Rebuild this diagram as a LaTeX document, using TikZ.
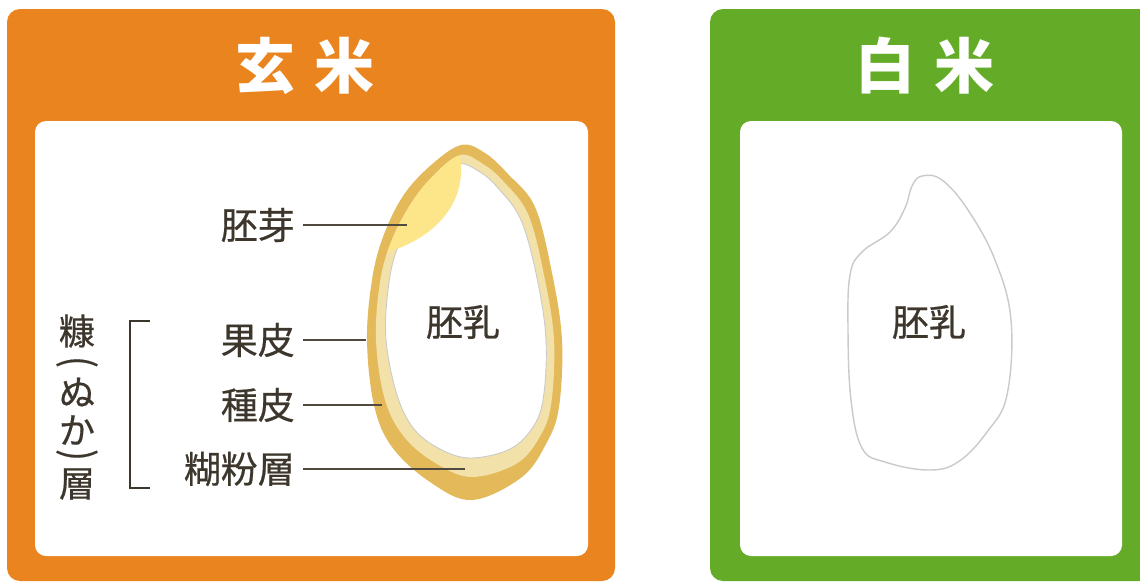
\documentclass[tikz,border=0pt]{standalone}
\usepackage{fontspec}
\newfontfamily\jp{Noto Sans CJK JP}
\newfontfamily\jpm{Noto Sans CJK JP}[FakeBold=0.5]
\definecolor{genmai}{HTML}{EA841E}
\definecolor{hakumai}{HTML}{64AC28}
\definecolor{husk}{HTML}{E3B95A}
\definecolor{bran}{HTML}{F3E1AA}
\definecolor{germ}{HTML}{FDE58A}
\definecolor{ink}{HTML}{3D362C}
\definecolor{rim}{HTML}{CACACA}
\tikzset{
  panel/.style={rounded corners=13pt},
  inner/.style={fill=white, rounded corners=11pt},
  title/.style={text=white, font=\jp\bfseries\fontsize{60}{60}\selectfont, inner sep=0pt},
  label/.style={text=ink, font=\jpm\fontsize{37}{40}\selectfont, inner sep=0pt},
  vlabel/.style={text=ink, font=\jpm\fontsize{36}{36}\selectfont, inner sep=0pt},
  vparen/.style={text=ink, font=\jpm\fontsize{34}{34}\selectfont, inner sep=0pt},
  leader/.style={draw=ink!90, line width=1.6pt},
}
\begin{document}
\begin{tikzpicture}[x=1pt, y=-1pt]
\useasboundingbox (0,0) rectangle (1140,582);
% panels
\fill[genmai, panel] (7,9) rectangle (615,581);
\fill[hakumai, panel] (710,9) rectangle (1152,581);
\fill[inner] (35,121) rectangle (588,556);
\fill[inner] (740,121) rectangle (1122,556);
% titles
\node[title] (tgen) at (305,66) {玄\hspace{20pt}米};
\node[title] (thaku) at (925,66) {白\hspace{20pt}米};

% brown rice grain: husk, bran layer, endosperm, germ
\fill[husk] plot[smooth cycle, tension=0.6] coordinates {
  (461,145) (485,153) (508,174) (535,207) (552,273) (562,340) (559,407)
  (547,442) (522,477) (472,500) (430,482) (392,447) (374,405) (367,340)
  (372,280) (383,237) (403,196) (430,166)};
\path[save path=\branpath] plot[smooth cycle, tension=0.6] coordinates {
  (460,155) (483,164) (503,181) (528,214) (544,275) (554,340) (551,405)
  (539,438) (516,464) (472,477) (437,464) (405,438) (385,400) (376,340)
  (380,282) (391,242) (410,205) (432,177)};
\fill[bran, use path=\branpath];
\draw[rim, line width=0.9pt, fill=white] plot[smooth cycle, tension=0.6] coordinates {
  (458,164) (480,172) (498,188) (521,220) (537,278) (546,340) (543,400)
  (531,430) (508,450) (470,458) (440,449) (414,429) (397,395) (386,340)
  (388,290) (396,252) (414,215) (436,184)};
\begin{scope}
  \clip[use path=\branpath];
  \fill[germ] (460,156) .. controls (468,205) and (432,240) .. (384,253)
    .. controls (378,205) and (412,158) .. (460,156) -- cycle;
\end{scope}

% white rice grain
\draw[rim, line width=1.4pt, fill=white] plot[smooth cycle, tension=0.65] coordinates {
  (922,176) (942,180) (968,210) (995,260) (1011,320) (1007,395) (987,432)
  (958,462) (928,470) (885,462) (862,448) (851,400) (848,330) (850,275)
  (862,252) (890,232) (905,208) (912,186)};

% texts inside grains
\node[label] (nyu1) at (463,322) {胚乳};
\node[label] (nyu2) at (929,322) {胚乳};

% part labels and leader lines
\node[label, anchor=east] (hoga) at (295,225) {胚芽};
\node[label, anchor=east] (kahi) at (295,340) {果皮};
\node[label, anchor=east] (shuhi) at (295,405) {種皮};
\node[label, anchor=east] (kofun) at (295,469) {糊粉層};
\coordinate (phoga) at (407,225);
\coordinate (pkahi) at (366,340);
\coordinate (pshuhi) at (382,405);
\coordinate (pkofun) at (465,469);
\draw[leader] ([xshift=8pt]hoga.east) -- (phoga);
\draw[leader] ([xshift=8pt]kahi.east) -- (pkahi);
\draw[leader] ([xshift=8pt]shuhi.east) -- (pshuhi);
\draw[leader] ([xshift=8pt]kofun.east) -- (pkofun);

% bran bracket with vertical caption, set one glyph per line
\coordinate (btop) at (150,321);
\coordinate (bbot) at (150,488);
\draw[ink, line width=1.8pt] (btop) -- ++(-20,0) -- ++(0,167) -- (bbot);
\node[vlabel] (nk1) at (77,331) {糠};
\node[vparen] (nk2) at (77,362) {\rotatebox{-90}{\scalebox{1}[1.2]{(}}};
\node[vlabel] (nk3) at (77,392) {ぬ};
\node[vlabel] (nk4) at (77,430) {か};
\node[vparen] (nk5) at (77,455) {\rotatebox{-90}{\scalebox{1}[1.2]{)}}};
\node[vlabel] (nk6) at (77,484) {層};
\end{tikzpicture}
\end{document}
